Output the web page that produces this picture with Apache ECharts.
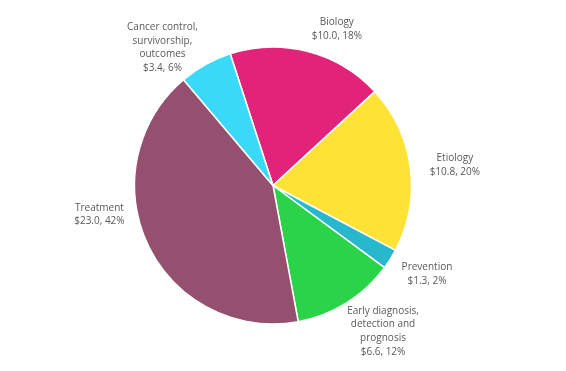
<!DOCTYPE html>
<html>
<head>
<meta charset="utf-8">
<script src="https://cdn.jsdelivr.net/npm/echarts@6/dist/echarts.min.js"></script>
<style>
  html, body { margin: 0; padding: 0; background: #ffffff; }
  #chart { width: 566px; height: 371px; }
</style>
</head>
<body>
<div id="chart"></div>
<script>
// Data (US$, share of total)
var categories = [
  'Biology',
  'Etiology',
  'Prevention',
  'Early diagnosis,\ndetection and\nprognosis',
  'Treatment',
  'Cancer control,\nsurvivorship,\noutcomes'
];
var values = [10.0, 10.8, 1.3, 6.6, 23.0, 3.4];
var colors = ['#E1237A', '#FFE236', '#28B8CD', '#2BD348', '#954F6F', '#3BD9F8'];

// Layout (not data): label centres as [angle clockwise from top (deg), distance from pie centre (px)]
var CX = 273, CY = 185.5, R = 138.5;
var labelPolar = [[22.2, 169], [83.6, 183], [119.9, 177.6], [143, 182.8], [260.5, 176], [321.3, 176.8]];

var total = values.reduce(function (a, b) { return a + b; }, 0);
var pieData = categories.map(function (c, i) {
  return { name: c, value: values[i], itemStyle: { color: colors[i] } };
});

var chart = echarts.init(document.getElementById('chart'), null, { renderer: 'canvas' });
chart.setOption({
  animation: false,
  backgroundColor: '#ffffff',
  series: [{
    type: 'pie',
    center: [CX, CY],
    radius: [0, R],
    startAngle: 108,
    clockwise: true,
    avoidLabelOverlap: false,
    data: pieData,
    itemStyle: { borderColor: '#ffffff', borderWidth: 1.5 },
    label: {
      show: true,
      position: 'outside',
      color: '#595959',
      fontFamily: 'Open Sans',
      fontSize: 10,
      lineHeight: 13.7,
      align: 'center',
      formatter: function (p) {
        return p.name + '\n$' + p.value.toFixed(1) + ', ' + Math.round(p.value / total * 100) + '%';
      }
    },
    labelLine: { show: false },
    labelLayout: function (params) {
      var lp = labelPolar[params.dataIndex];
      var a = lp[0] * Math.PI / 180;
      return {
        x: CX + lp[1] * Math.sin(a),
        y: CY - lp[1] * Math.cos(a),
        align: 'center',
        verticalAlign: 'middle'
      };
    },
    emphasis: { disabled: true }
  }]
});
</script>
</body>
</html>
